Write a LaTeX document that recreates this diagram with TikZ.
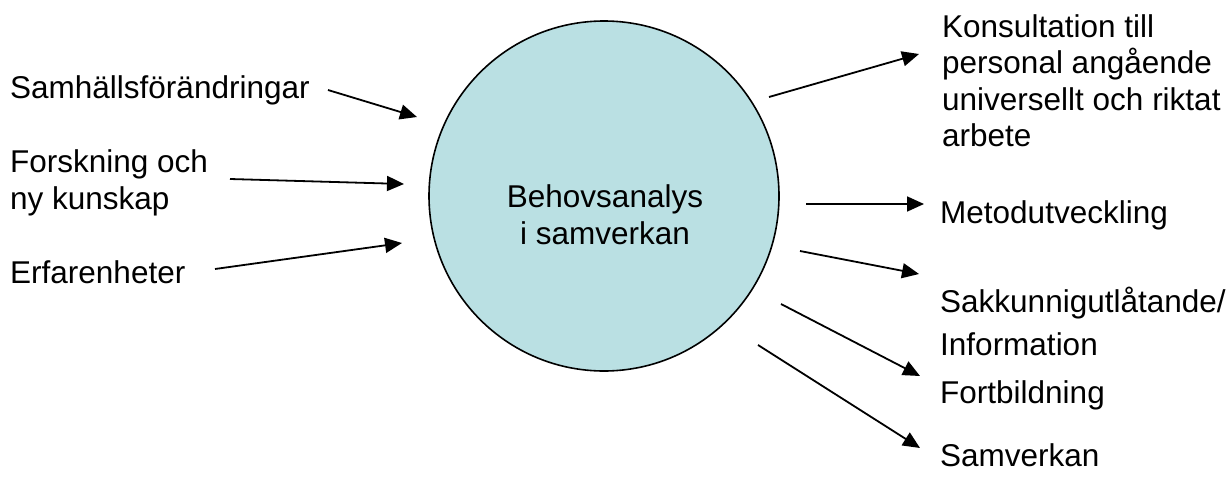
\documentclass[tikz,border=0pt]{standalone}
\usepackage{fontspec}
\setmainfont{Liberation Sans}
\usetikzlibrary{arrows.meta}
\definecolor{bubble}{RGB}{186,224,227}
\tikzset{
  lbl/.style={inner sep=0pt, anchor=base west, align=left, font=\fontsize{31.5}{36.5}\selectfont},
  arr/.style={line width=1.8pt, -{Triangle[length=17pt,width=15pt]}},
}
\begin{document}
\begin{tikzpicture}[x=1pt,y=-1pt]
\useasboundingbox (0,0) rectangle (1232,479);
\node[circle, draw=black, line width=1.6pt, fill=bubble, minimum size=350pt, inner sep=0pt] (c) at (604,196) {};
\node[inner sep=0pt, anchor=base, align=center, font=\fontsize{31.5}{37}\selectfont] (ct) at (605,244) {Behovsanalys\\ i samverkan};
% left labels
\node[lbl] (l1) at (10,98) {Samhällsförändringar};
\node[lbl] (l2) at (10,209) {Forskning och\\ny kunskap};
\node[lbl] (l3) at (10,283) {Erfarenheter};
% right labels
\node[lbl] (r1) at (942,146.5) {Konsultation till\\personal angående\\universellt och riktat\\arbete};
\node[lbl] (r2) at (940,223) {Metodutveckling};
\node[lbl, font=\fontsize{31.5}{43}\selectfont] (r3) at (940,355) {Sakkunnigutlåtande/\\Information};
\node[lbl] (r4) at (940,403) {Fortbildning};
\node[lbl] (r5) at (940,466) {Samverkan};
% connector ends
\coordinate (a1s) at (328,90);  \coordinate (a1e) at (417,117);
\coordinate (a2s) at (230,179); \coordinate (a2e) at (404,184);
\coordinate (a3s) at (215,269); \coordinate (a3e) at (402,243);
\coordinate (b1s) at (769,97);  \coordinate (b1e) at (919,54);
\coordinate (b2s) at (806,204); \coordinate (b2e) at (924,204);
\coordinate (b3s) at (800,251); \coordinate (b3e) at (919,274);
\coordinate (b4s) at (781,304); \coordinate (b4e) at (920,376);
\coordinate (b5s) at (758,345); \coordinate (b5e) at (920,448);
\draw[arr] (a1s) -- (a1e);
\draw[arr] (a2s) -- (a2e);
\draw[arr] (a3s) -- (a3e);
\draw[arr] (b1s) -- (b1e);
\draw[arr] (b2s) -- (b2e);
\draw[arr] (b3s) -- (b3e);
\draw[arr] (b4s) -- (b4e);
\draw[arr] (b5s) -- (b5e);
\end{tikzpicture}
\end{document}
